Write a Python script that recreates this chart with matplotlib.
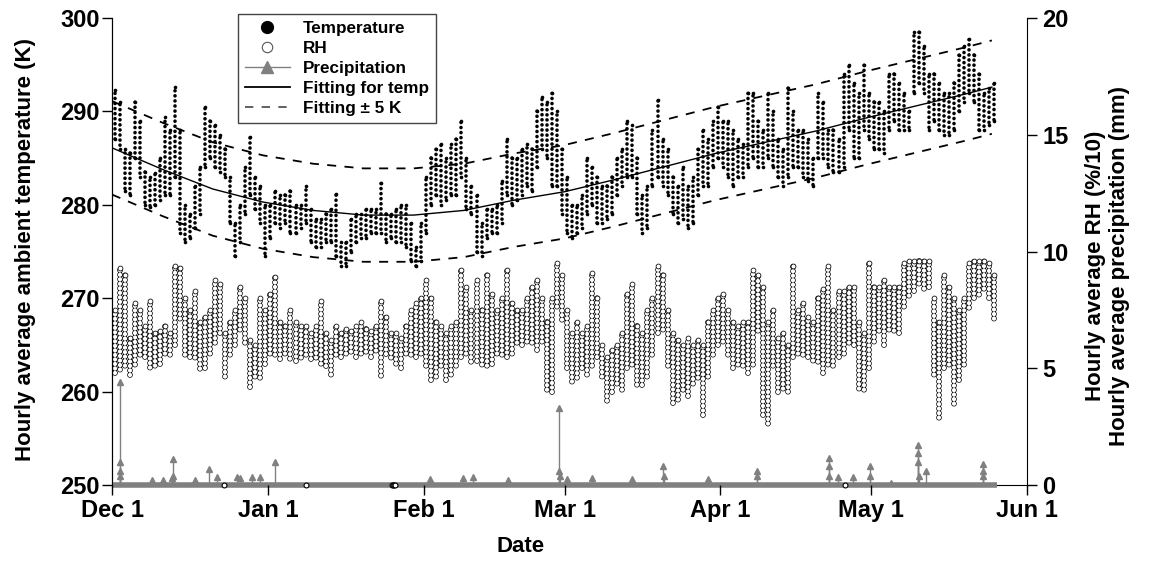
import numpy as np
import matplotlib.pyplot as plt
from matplotlib.lines import Line2D

plt.rcParams['font.family'] = ['Liberation Sans', 'DejaVu Sans']
plt.rcParams['font.weight'] = 'bold'
plt.rcParams['lines.scale_dashes'] = False

# x axis in days since Dec 1
month_ticks = [0, 31, 62, 90, 121, 151, 182]
month_labels = ['Dec 1', 'Jan 1', 'Feb 1', 'Mar 1', 'Apr 1', 'May 1', 'Jun 1']

# daily range of the hourly temperature (K)
temp_lo = [287, 286, 281.5, 281, 285, 283, 280, 279.8, 280, 280.5,
           281, 281, 283, 277, 276, 276.5, 277.5, 279, 284, 285,
           284, 283.5, 283, 278, 274.5, 276, 279, 281, 279.5, 278,
           274.5, 276.5, 278, 277.5, 278, 277, 277, 277.5, 278, 276,
           275.5, 275.5, 276, 276, 274.5, 273.5, 273.5, 275, 276, 276.5,
           276.5, 277, 277, 277, 276, 276.5, 276, 276, 275.5, 274,
           273.4, 274, 277, 280, 281, 280, 280.5, 281, 281, 283,
           279.5, 279, 275, 274.5, 276.5, 277, 277, 278, 281, 280,
           280.5, 281, 282, 281.5, 284, 286, 285, 282, 282, 279,
           277, 276.5, 277, 277.5, 279, 280, 278, 278, 278.5, 279,
           281, 282, 283, 283, 279, 277, 277.5, 282, 283, 282,
           281, 279, 278, 278.5, 277.5, 278, 281, 282, 282, 284,
           285, 284, 283, 282, 283, 283, 284, 285, 284, 284,
           285, 284, 283, 282, 283, 284, 284, 283, 282.5, 282,
           285, 285, 284, 283.5, 283.5, 284, 288, 285, 285, 288,
           287, 286, 286, 285.5, 288, 289, 288, 288, 288, 292,
           293, 292, 288, 289, 288, 287.5, 287.5, 288, 290, 291,
           292, 291, 288, 288, 288.5, 289]
temp_hi = [292.3, 291, 286, 285.5, 291, 289, 283.5, 283, 283.4, 285,
           289.4, 288, 292.6, 288, 280, 279, 282, 284, 290.5, 289,
           288.5, 287.5, 286, 283, 278, 280, 284, 287.3, 283, 282,
           280, 280, 281.5, 281, 281, 281.5, 280, 280, 282, 279.5,
           278.5, 278.5, 279, 279.5, 281.2, 276, 276, 278.5, 279, 279,
           279.5, 279.5, 279.5, 282.3, 279, 279, 279.5, 280, 280, 278,
           275.5, 278, 283, 285, 286, 286.5, 285, 286.5, 287, 289,
           285, 282, 281, 278, 279.5, 279.5, 280, 282.5, 287, 285,
           285, 286, 286.5, 286, 290, 291.5, 291, 292, 290, 286,
           283, 280, 280, 281, 285, 284, 283, 282, 282, 283,
           285, 286, 289, 288.5, 285, 281, 282, 288, 291.2, 287,
           286, 283, 282, 284, 282, 283, 286, 288, 287, 289,
           290.5, 289, 289, 288, 287, 286.5, 292, 292, 289, 288,
           292, 290, 287, 286, 292.5, 290, 288, 288, 287, 285,
           292, 291, 288, 288, 287, 294, 295, 293, 292, 295,
           292, 291, 291, 290, 294, 294, 293, 292, 290, 298.5,
           298.5, 297, 294, 294, 293, 292, 292, 293, 296, 297,
           297.8, 296, 294, 292, 292.5, 293]

# daily range of the hourly RH (%/10)
rh_lo = [4.8, 4.8, 5.0, 4.7, 5.0, 5.5, 5.5, 4.9, 5.0, 5.2,
         5.5, 5.5, 6.0, 7.0, 5.5, 5.5, 5.3, 4.9, 5.0, 5.5,
         6.0, 6.5, 4.5, 5.5, 6.0, 6.5, 6.0, 4.2, 4.5, 4.5,
         5.2, 5.5, 5.5, 5.4, 5.5, 5.3, 5.3, 5.3, 5.5, 5.4,
         5.3, 5.1, 5.1, 4.6, 5.5, 5.5, 5.5, 5.6, 5.5, 5.5,
         5.6, 5.5, 5.6, 4.6, 5.6, 5.3, 5.1, 5.0, 5.5, 5.5,
         5.5, 5.5, 5.0, 4.5, 4.5, 5.0, 4.5, 4.6, 5.0, 5.5,
         5.5, 5.2, 5.3, 5.0, 5.0, 5.2, 5.5, 5.5, 5.5, 5.5,
         6.0, 6.0, 6.0, 6.0, 5.8, 6.0, 4.0, 4.0, 7.5, 7.0,
         5.0, 4.3, 4.5, 5.0, 4.6, 5.0, 5.5, 4.5, 3.5, 4.0,
         4.2, 4.0, 5.0, 5.0, 4.2, 4.3, 4.5, 5.5, 6.5, 6.5,
         5.0, 3.5, 3.5, 4.0, 3.8, 4.2, 4.5, 3.0, 4.5, 5.5,
         6.0, 6.0, 5.5, 5.0, 5.0, 5.0, 4.8, 5.0, 6.5, 3.0,
         2.5, 5.0, 4.0, 4.0, 3.9, 5.5, 5.5, 5.5, 5.5, 5.2,
         5.2, 4.8, 5.0, 5.0, 5.5, 5.5, 6.0, 6.0, 4.0, 4.0,
         5.0, 6.0, 6.5, 6.0, 6.5, 6.5, 6.5, 7.5, 8.0, 8.3,
         8.5, 8.3, 8.5, 4.6, 2.8, 5.0, 5.0, 3.4, 4.5, 5.0,
         7.5, 8.0, 8.0, 8.3, 8.0, 7.0]
rh_hi = [7.5, 9.3, 9.0, 6.3, 7.8, 7.5, 6.8, 7.9, 6.5, 6.6,
         6.8, 6.5, 9.4, 9.3, 8.0, 7.5, 8.3, 7.0, 7.2, 7.5,
         8.8, 8.6, 6.5, 7.0, 7.5, 8.5, 8.0, 6.2, 6.0, 8.0,
         7.5, 8.2, 8.9, 7.0, 6.8, 7.5, 7.0, 6.8, 6.8, 6.5,
         6.8, 7.9, 6.5, 6.2, 6.8, 6.5, 6.7, 6.6, 6.8, 7.0,
         6.7, 6.6, 6.8, 7.9, 7.2, 6.5, 6.5, 6.3, 6.8, 7.5,
         7.8, 8.0, 8.8, 8.0, 7.0, 6.8, 6.5, 6.8, 7.0, 9.2,
         8.5, 7.5, 8.8, 7.5, 9.0, 8.2, 7.5, 8.0, 9.2, 7.8,
         7.5, 7.5, 8.0, 8.5, 8.8, 8.0, 7.0, 8.0, 9.5, 9.0,
         7.5, 6.5, 7.0, 6.5, 6.8, 9.1, 8.0, 6.0, 5.5, 5.8,
         6.0, 6.5, 8.2, 8.6, 6.8, 6.5, 7.5, 8.0, 9.4, 9.0,
         7.5, 6.5, 6.2, 6.0, 6.3, 6.0, 6.2, 6.0, 7.0, 7.5,
         8.0, 8.2, 7.5, 7.0, 6.8, 7.0, 7.0, 9.2, 9.0, 8.5,
         7.0, 7.5, 6.3, 6.5, 6.0, 9.4, 7.5, 7.8, 7.2, 7.0,
         8.0, 8.4, 9.4, 7.5, 8.3, 8.3, 8.5, 8.5, 7.0, 6.5,
         9.5, 8.5, 8.5, 8.8, 8.5, 8.5, 8.5, 9.5, 9.6, 9.6,
         9.6, 9.6, 9.6, 8.0, 7.0, 9.0, 8.5, 8.0, 7.5, 8.0,
         9.5, 9.6, 9.6, 9.6, 9.5, 9.0]
rh_zero_days = [22.3, 38.6, 55.7, 55.9, 56.1, 56.3, 145.7]

# hourly precipitation events (day, mm); all other hours are 0
rain_days = [1.5, 1.55, 1.6, 1.65, 7.9, 10.2, 12.0, 12.1, 12.2, 16.5,
             19.2, 20.8, 24.8, 25.5, 27.8, 29.4, 32.5, 63.2, 69.8, 71.8,
             78.8, 88.9, 89.0, 89.05, 90.4, 95.4, 103.4, 109.6, 109.7, 118.6,
             128.2, 128.25, 142.6, 142.65, 142.7, 144.4, 147.3, 150.8, 150.85, 155.0,
             160.3, 160.35, 160.4, 160.45, 161.8, 173.2, 173.25, 173.3]
rain_mm = [0.6, 4.4, 1.0, 0.4, 0.2, 0.2, 0.3, 1.1, 0.4, 0.2,
           0.7, 0.35, 0.35, 0.3, 0.35, 0.35, 1.0, 0.25, 0.3, 0.35,
           0.2, 3.3, 0.6, 0.4, 0.25, 0.3, 0.25, 0.8, 0.4, 0.25,
           0.6, 0.4, 1.15, 0.4, 0.8, 0.35, 0.35, 0.8, 0.4, 0.1,
           1.7, 1.35, 1.0, 0.4, 0.6, 0.9, 0.6, 0.4]

# fitted temperature curve
fit_days = [0, 10, 20, 30, 40, 50, 60, 70, 80, 90, 100, 110, 120, 130, 140, 150, 160, 170, 175]
fit_temp = [286.1, 283.8, 281.7, 280.3, 279.4, 278.9, 278.9, 279.4, 280.5, 281.4,
            282.7, 284.1, 285.5, 286.7, 287.9, 289.3, 290.6, 291.9, 292.6]

days = np.arange(len(temp_lo)) + 0.5
gray = '#808080'
fs_tick = 17
fs_label = 16

fig = plt.figure(figsize=(11.5, 5.65), dpi=100)
ax = fig.add_axes([0.0974, 0.1416, 0.7957, 0.8265])
ax2 = ax.twinx()
ax.set_zorder(ax2.get_zorder() + 1)
ax.patch.set_visible(False)

# dot chains: shift the dot phase a little from day to day
t_style = [(0.9 * (i % 4), (0.05, 3.6)) for i in range(len(days))]
r_style = [(0.8 * (i % 3), (0.05, 3.2)) for i in range(len(days))]

# RH as chains of open circles
ax2.vlines(days, rh_lo, rh_hi, colors='black', lw=4.1,
           linestyles=r_style, capstyle='round', zorder=2)
ax2.vlines(days, rh_lo, rh_hi, colors='white', lw=3.1,
           linestyles=r_style, capstyle='round', zorder=2)
ax2.plot(days, rh_hi, 'o', ms=3.5, mfc='white', mec='black', mew=0.55, zorder=3)
ax2.plot(rh_zero_days, np.zeros(len(rh_zero_days)), 'o', ms=3.5, mfc='white',
         mec='black', mew=0.8, zorder=5, clip_on=False)

# precipitation
ax2.plot([0, days[-1] + 0.5], [0, 0], color=gray, lw=4, solid_capstyle='butt',
         clip_on=False, zorder=4)
ax2.vlines(rain_days, 0, rain_mm, colors=gray, lw=1.0, zorder=4)
ax2.plot(rain_days, rain_mm, '^', color=gray, ms=5, zorder=4)

# temperature as chains of filled dots
ax.vlines(days, temp_lo, temp_hi, colors='black', lw=2.6,
          linestyles=t_style, capstyle='round', zorder=3)
ax.plot(days, temp_hi, 'o', color='black', ms=2.6, mew=0, zorder=3)
ax.plot(days, temp_lo, 'o', color='black', ms=2.6, mew=0, zorder=3)

# fitting lines
fit_temp = np.array(fit_temp)
ax.plot(fit_days, fit_temp, color='black', lw=1.0, zorder=4)
ax.plot(fit_days, fit_temp + 5, color='black', lw=1.3, dashes=(6.5, 6), zorder=4)
ax.plot(fit_days, fit_temp - 5, color='black', lw=1.3, dashes=(6.5, 6), zorder=4)

ax.set_xlim(0, 182)
ax.set_ylim(250, 300)
ax2.set_ylim(0, 20)
ax.set_xticks(month_ticks, month_labels)
ax.set_yticks(range(250, 301, 10))
ax2.set_yticks(range(0, 21, 5))

for a in (ax, ax2):
    a.spines['top'].set_visible(False)
    a.tick_params(direction='out', length=7, width=1, labelsize=fs_tick)
ax.spines['right'].set_visible(False)
ax.spines['bottom'].set_visible(False)
ax.tick_params(axis='y', pad=2)
ax.tick_params(axis='x', pad=3)
ax2.tick_params(axis='y', pad=4)

ax.set_xlabel('Date', fontsize=fs_label, fontweight='bold')
ax.xaxis.set_label_coords(0.447, -0.11)
ax.set_ylabel('Hourly average ambient temperature (K)', fontsize=fs_label, fontweight='bold')
ax.yaxis.set_label_coords(-0.083, 0.505)
ax2.set_ylabel('Hourly average RH (%/10)\nHourly average precipitation (mm)',
               fontsize=fs_label, fontweight='bold')
ax2.yaxis.set_label_coords(1.063, 0.47)

handles = [Line2D([], [], ls='none', marker='o', color='black', ms=8.5),
           Line2D([], [], ls='none', marker='o', mfc='white', mec='#555555', ms=7.5, mew=0.8),
           Line2D([], [], color=gray, marker='^', ms=8.5, lw=1),
           Line2D([], [], color='black', lw=1.3),
           Line2D([], [], color='#555555', lw=1.3, dashes=(6, 6))]
labels = ['Temperature', 'RH', 'Precipitation', 'Fitting for temp', 'Fitting \u00b1 5 K']
leg = ax.legend(handles, labels, loc='upper left', bbox_to_anchor=(0.138, 1.009),
                borderaxespad=0, fancybox=False, edgecolor='#444444', framealpha=1,
                handlelength=2.6, handletextpad=0.8, labelspacing=0.3, borderpad=0.4,
                prop={'size': 12.3, 'weight': 'bold'})
leg.get_frame().set_linewidth(1.0)

fig.savefig('out.png', dpi=100)
